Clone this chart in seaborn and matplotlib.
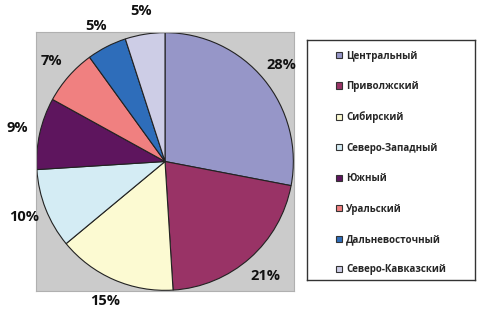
import numpy as np
import pandas as pd
import matplotlib
matplotlib.use('Agg')
import matplotlib.pyplot as plt
import seaborn as sns
from matplotlib.patches import Patch

#==============================================================================
# Data
#==============================================================================
regions = ['Центральный', 'Приволжский', 'Сибирский', 'Северо-Западный',
           'Южный', 'Уральский', 'Дальневосточный', 'Северо-Кавказский']
shares = [28, 21, 15, 10, 9, 7, 5, 5]
colors = ['#9696C8', '#993366', '#FCFAD2', '#D4ECF4',
          '#5E155E', '#F08080', '#2E6DBA', '#CDCDE6']

df = pd.DataFrame({'region': regions, 'share': shares})

#==============================================================================
# Plot
#==============================================================================
sns.set_style('white')
plt.rcParams['font.family'] = ['Open Sans', 'DejaVu Sans']

fig = plt.figure(figsize=(4.89, 3.26), dpi=100)
fig.patch.set_facecolor('white')

# Pie area with gray background
ax = fig.add_axes([36/489, 1 - 291/326, 258/489, 259/326])
ax.set_facecolor('#CBCBCB')
wedges, texts, autotexts = ax.pie(
    df['share'], colors=colors, startangle=90, counterclock=False,
    radius=0.995, autopct='%d%%', pctdistance=1.18,
    wedgeprops=dict(edgecolor='#222222', linewidth=0.8),
    textprops=dict(fontsize=10.5, fontweight='bold', color='#111111'))
ax.set_xlim(-1.0, 1.0)
ax.set_ylim(-1.0, 1.0)
ax.set_aspect('auto')
ax.set_xticks([])
ax.set_yticks([])
ax.set_frame_on(True)
for s in ax.spines.values():
    s.set_visible(True)
    s.set_color('#B0B0B0')
    s.set_linewidth(0.8)

# Legend box
lax = fig.add_axes([307/489, 1 - 280/326, 168/489, 240/326])
lax.set_xticks([])
lax.set_yticks([])
for s in lax.spines.values():
    s.set_visible(True)
    s.set_color('#333333')
    s.set_linewidth(1.0)

handles = [Patch(facecolor=c, edgecolor='#333333', linewidth=0.8) for c in colors]
leg = lax.legend(handles, df['region'], loc='center',
                 bbox_to_anchor=(0.5, 0.5 - 3/240), frameon=False,
                 handlelength=0.6, handleheight=0.6, handletextpad=0.4,
                 labelspacing=2.0, prop=dict(size=7, weight='bold'))

fig.savefig('out.png', dpi=100)
